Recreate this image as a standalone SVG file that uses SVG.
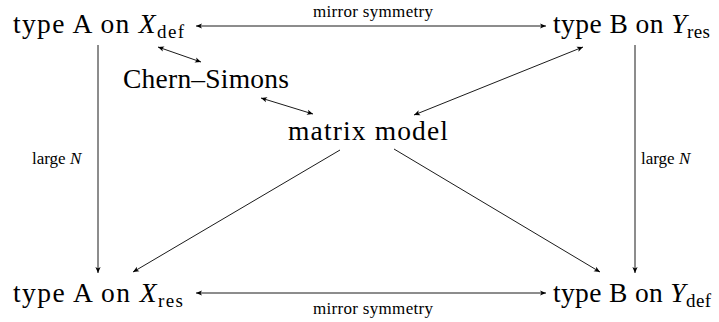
<svg xmlns="http://www.w3.org/2000/svg" width="719" height="322" viewBox="0 0 719 322">
<style>
.n{font-family:"Liberation Serif","Times New Roman",serif;font-size:27.5px;fill:#000}
.i{font-style:italic}
.s{font-size:19px}
.l{font-family:"Liberation Serif","Times New Roman",serif;font-size:17px;fill:#000}
.c{stroke:#000;stroke-width:0.9;fill:none}
</style>
<defs>
<marker id="ah" viewBox="-7 -4 8 8" refX="0" refY="0" markerWidth="8" markerHeight="8" markerUnits="userSpaceOnUse" orient="auto-start-reverse">
<path d="M0,0 L-6,-2.6 L-4.5,0 L-6,2.6 Z" fill="#000"/>
</marker>
</defs>
<rect width="719" height="322" fill="#fff"/>
<g id="connectors">
<line class="c" x1="196" y1="26" x2="546" y2="26" marker-start="url(#ah)" marker-end="url(#ah)"/>
<line class="c" x1="196" y1="293" x2="546" y2="293" marker-start="url(#ah)" marker-end="url(#ah)"/>
<line class="c" x1="98" y1="45" x2="98" y2="273" marker-end="url(#ah)"/>
<line class="c" x1="635" y1="45" x2="635" y2="273" marker-end="url(#ah)"/>
<line class="c" x1="158" y1="47" x2="201" y2="62" marker-start="url(#ah)" marker-end="url(#ah)"/>
<line class="c" x1="261" y1="98" x2="313" y2="114" marker-start="url(#ah)" marker-end="url(#ah)"/>
<line class="c" x1="414" y1="115" x2="583" y2="47" marker-start="url(#ah)" marker-end="url(#ah)"/>
<line class="c" x1="340" y1="150" x2="133" y2="272" marker-end="url(#ah)"/>
<line class="c" x1="394" y1="149" x2="600" y2="272" marker-end="url(#ah)"/>
<text class="l" x="373" y="17" text-anchor="middle" textLength="120">mirror symmetry</text>
<text class="l" x="373" y="314" text-anchor="middle" textLength="120">mirror symmetry</text>
<text class="l" x="32" y="164">large <tspan class="i">N</tspan></text>
<text class="l" x="641" y="164">large <tspan class="i">N</tspan></text>
</g>
<g id="tl"><text class="n" x="13" y="33" textLength="171">type A on <tspan class="i">X</tspan><tspan class="s" dy="5">def</tspan></text></g>
<g id="tr"><text class="n" x="553" y="33" textLength="157">type B on <tspan class="i">Y</tspan><tspan class="s" dy="5">res</tspan></text></g>
<g id="bl"><text class="n" x="13" y="302" textLength="170">type A on <tspan class="i">X</tspan><tspan class="s" dy="5">res</tspan></text></g>
<g id="br"><text class="n" x="553" y="302" textLength="158">type B on <tspan class="i">Y</tspan><tspan class="s" dy="5">def</tspan></text></g>
<g id="cs"><text class="n" x="123" y="88" textLength="166">Chern–Simons</text></g>
<g id="mm"><text class="n" x="288" y="140" textLength="160">matrix model</text></g>
</svg>
